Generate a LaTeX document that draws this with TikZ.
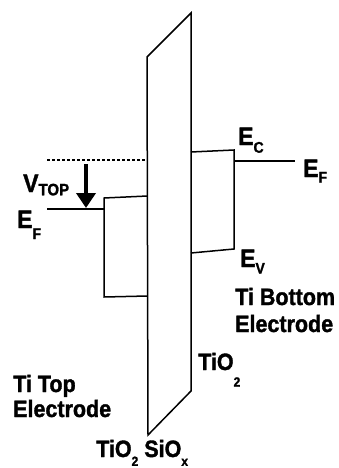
\documentclass[tikz,border=0pt]{standalone}
\usepackage{fontspec}
\setmainfont{Liberation Sans}[BoldFeatures={FakeBold=1.5}]
\usepackage{graphicx}
\usetikzlibrary{arrows.meta}
\newcommand{\ylab}[1]{\scalebox{1}[1.1]{#1}}
\newcommand{\bigE}{\fontsize{23}{23}\selectfont\bfseries}
\newcommand{\subf}{\fontsize{14}{14}\selectfont\bfseries}
\begin{document}
\begin{tikzpicture}[x=1pt,y=-1pt,
  band/.style={line width=1.5pt,line join=miter},
  lvl/.style={line width=1.5pt},
  dashlvl/.style={line width=1.2pt,dash pattern=on 3pt off 2pt},
  varrow/.style={line width=4pt,-{Triangle[width=19pt,length=15pt]}},
  lab/.style={inner sep=0pt,anchor=base west,font=\fontsize{21.5}{26}\selectfont\bfseries}]
\useasboundingbox (0,0) rectangle (338,468);
% SiOx barrier
\coordinate (s1) at (147,57);
\coordinate (s2) at (191,13);
\coordinate (s3) at (191,391);
\coordinate (s4) at (148,435);
\draw[band] (s1) -- (s2) -- (s3) -- (s4) -- cycle;
% left TiO2 box
\coordinate (l1) at (104,198);
\coordinate (l2) at (147.5,196);
\coordinate (l3) at (104,297);
\coordinate (l4) at (147.5,296);
\draw[band] (l2) -- (l1) -- (l3) -- (l4);
% right TiO2 box
\coordinate (r1) at (191,152);
\coordinate (r2) at (234,150);
\coordinate (r3) at (191,253);
\coordinate (r4) at (234,249);
\draw[band] (r1) -- (r2) -- (r4) -- (r3);
% Fermi levels
\coordinate (efl0) at (47,209);
\coordinate (efl1) at (104,209);
\draw[lvl] (efl0) -- (efl1);
\coordinate (efr0) at (234,161);
\coordinate (efr1) at (295,161);
\draw[lvl] (efr0) -- (efr1);
% dashed reference level
\coordinate (d0) at (47,160);
\coordinate (d1) at (147,160);
\draw[dashlvl] (d0) -- (d1);
% V_TOP arrow
\coordinate (a0) at (86,164);
\coordinate (a1) at (86,208);
\draw[varrow] (a0) -- (a1);
% labels
\node[lab] (vtop) at (23,192) {\ylab{\bigE V\raisebox{-3pt}{\fontsize{15}{15}\selectfont\bfseries TOP}}};
\node[lab] (efl) at (17,228) {\ylab{\bigE E\raisebox{-10pt}{\subf F}}};
\node[lab] (ec) at (238,145) {\ylab{\bigE E\raisebox{-7pt}{\subf C}}};
\node[lab] (efr) at (303,177) {\ylab{\bigE E\raisebox{-5pt}{\subf F}}};
\node[lab] (ev) at (240,267) {\ylab{\bigE E\raisebox{-6pt}{\subf V}}};
\node[lab] (tb1) at (235,305) {\ylab{Ti Bottom}};
\node[lab] (tb2) at (235,332) {\ylab{Electrode}};
\node[lab] (tio2r) at (198,370) {\ylab{TiO\raisebox{-15pt}{\fontsize{12}{12}\selectfont\bfseries 2}}};
\node[lab] (tt1) at (13,392) {\ylab{Ti Top}};
\node[lab] (tt2) at (13,417) {\ylab{Electrode}};
\node[lab] (bot) at (96,457) {\ylab{TiO\raisebox{-8pt}{\fontsize{12}{12}\selectfont\bfseries 2}\hspace{6pt}SiO\raisebox{-8pt}{\fontsize{12}{12}\selectfont\bfseries x}}};
\end{tikzpicture}
\end{document}
